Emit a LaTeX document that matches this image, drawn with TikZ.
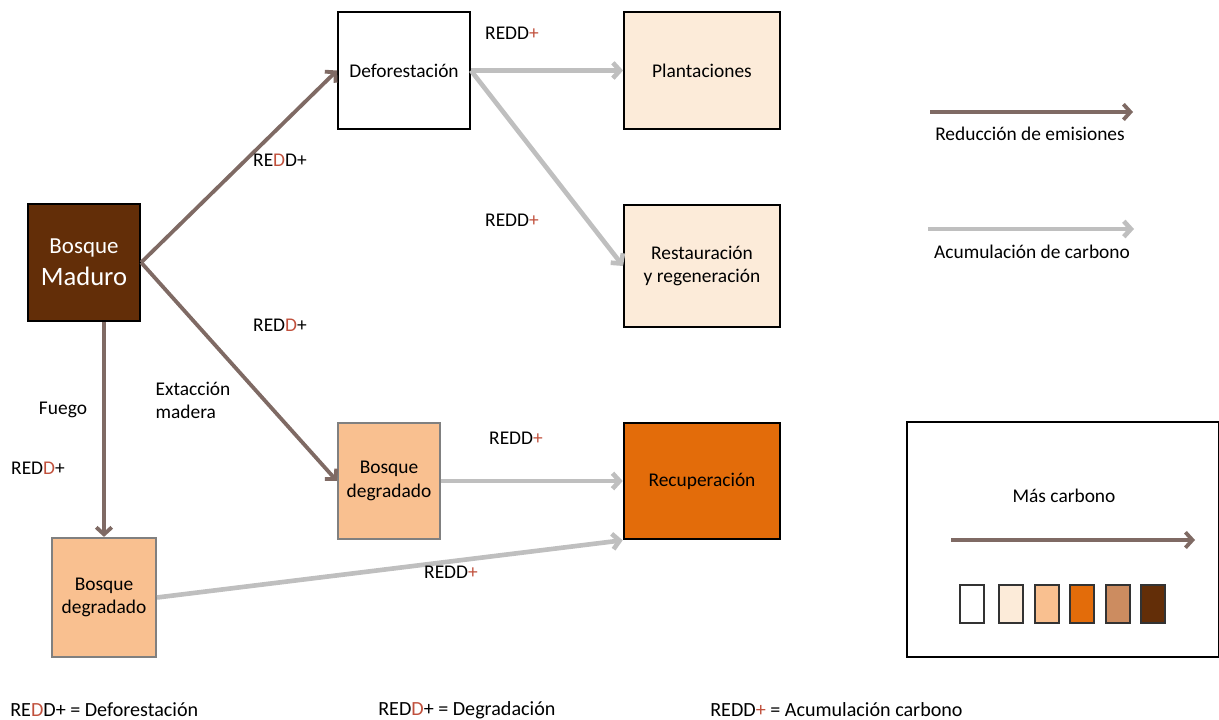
\documentclass[tikz,border=0pt]{standalone}
\usepackage{fontspec}
\setmainfont{Carlito}
\usetikzlibrary{positioning,calc,arrows.meta}
\definecolor{brownline}{RGB}{127,106,100}
\definecolor{grayline}{RGB}{191,191,191}
\definecolor{darkbrown}{RGB}{99,46,8}
\definecolor{beige}{RGB}{252,235,217}
\definecolor{peach}{RGB}{249,192,144}
\definecolor{orange}{RGB}{227,108,10}
\definecolor{tan}{RGB}{204,140,96}
\definecolor{reddred}{RGB}{192,80,60}
\newcommand{\reddDef}{RE\textcolor{reddred}{D}D+}
\newcommand{\reddDeg}{RED\textcolor{reddred}{D}+}
\newcommand{\reddAcc}{REDD\textcolor{reddred}{+}}
\tikzset{
  box/.style={draw=black, line width=1.3pt, align=center, inner sep=2pt,
    font=\fontsize{13.8}{16.5}\selectfont},
  lbl/.style={inner sep=0pt, align=left, font=\fontsize{13.8}{16.5}\selectfont},
  swatch/.style={draw=black!80, line width=1pt, minimum width=0.6cm, minimum height=0.95cm},
  emis/.style={draw=brownline, line width=2.7pt, -{Straight Barb[length=5pt,width=11pt]}},
  accum/.style={draw=grayline, line width=3.3pt, -{Straight Barb[length=5pt,width=11pt]}},
}
\begin{document}
\begin{tikzpicture}[x=0.025cm, y=-0.025cm]
        \useasboundingbox (0,0) rectangle (1219,720);
        \node (maduro) [box, fill=darkbrown, text=white, line width=1.6pt,
          font=\fontsize{18.9}{22.5}\selectfont,
          minimum width=2.8cm, minimum height=2.925cm] at (84,262.5)
          {{\fontsize{16.3}{19}\selectfont Bosque}\\Maduro};
        \node (defor) [box, fill=white, minimum width=3.3cm, minimum height=2.925cm] at (404,70.5) {Deforestación};
        \node (plant) [box, fill=beige, minimum width=3.9cm, minimum height=2.925cm] at (702,70.5) {Plantaciones};
        \node (rest) [box, fill=beige, minimum width=3.9cm, minimum height=3.05cm] at (702,266) {Restauración\\y regeneración};
        \node (degr1) [box, fill=peach, draw=black!50, line width=1.5pt,
          minimum width=2.55cm, minimum height=2.9cm] at (389,481) {Bosque\\degradado};
        \node (recup) [box, fill=orange, line width=1.8pt, minimum width=3.9cm, minimum height=2.9cm] at (702,481) {Recuperación};
        \node (degr2) [box, fill=peach, draw=black!50, line width=1.5pt,
          minimum width=2.6cm, minimum height=2.975cm] at (104,597.5) {Bosque\\degradado};
        \draw[emis] (maduro.east) -- (defor.west);
        \draw[emis] (maduro.east) -- (degr1.west);
        \draw[emis] (maduro.south -| degr2.north) -- (degr2.north);
        \draw[accum] (defor.east) -- (plant.west);
        \draw[accum] (defor.east) -- (rest.west);
        \draw[accum] (degr1.east) -- (recup.west);
        \draw[accum] (degr2.east) -- (recup.south west);
        \node (l1) [lbl] at (280,160) {\reddDef};
        \node (l2) [lbl] at (280,325) {\reddDeg};
        \node (l3) [lbl] at (193,400) {Extacción\\madera};
        \node (l4) [lbl] at (63,410) {Fuego};
        \node (l5) [lbl] at (38,468) {\reddDeg};
        \node (l6) [lbl] at (512,33) {\reddAcc};
        \node (l7) [lbl] at (512,220) {\reddAcc};
        \node (l8) [lbl] at (516,438) {\reddAcc};
        \node (l9) [lbl] at (451,572) {\reddAcc};
        % leyenda
        \coordinate (e1) at (930,112);
        \coordinate (e2) at (1133,112);
        \draw[emis] (e1) -- (e2);
        \node (le) [lbl] at (1030,134) {Reducción de emisiones};
        \coordinate (a1) at (928,229);
        \coordinate (a2) at (1134,229);
        \draw[accum] (a1) -- (a2);
        \node (la) [lbl] at (1032,252) {Acumulación de carbono};
        \node (legend) [draw=black, line width=1.5pt, minimum width=7.8cm, minimum height=5.875cm] at (1063,539.5) {};
        \node (mas) [lbl] at (1064,496) {Más carbono};
        \coordinate (m1) at (951,540);
        \coordinate (m2) at (1195,540);
        \draw[emis] (m1) -- (m2);
        \node (s1) [swatch, fill=white] at (972,604) {};
        \node (s2) [swatch, fill=beige] at (1011,604) {};
        \node (s3) [swatch, fill=peach] at (1047,604) {};
        \node (s4) [swatch, fill=orange] at (1082,604) {};
        \node (s5) [swatch, fill=tan] at (1118,604) {};
        \node (s6) [swatch, fill=darkbrown] at (1153,604) {};
        \node (f1) [lbl, anchor=west, font=\fontsize{14.3}{17}\selectfont] at (10,710) {\reddDef{} = Deforestación};
        \node (f2) [lbl, anchor=west, font=\fontsize{14.3}{17}\selectfont] at (378,710) {\reddDeg{} = Degradación};
        \node (f3) [lbl, anchor=west, font=\fontsize{14.3}{17}\selectfont] at (710,710) {\reddAcc{} = Acumulación carbono};
    \end{tikzpicture}
\end{document}
